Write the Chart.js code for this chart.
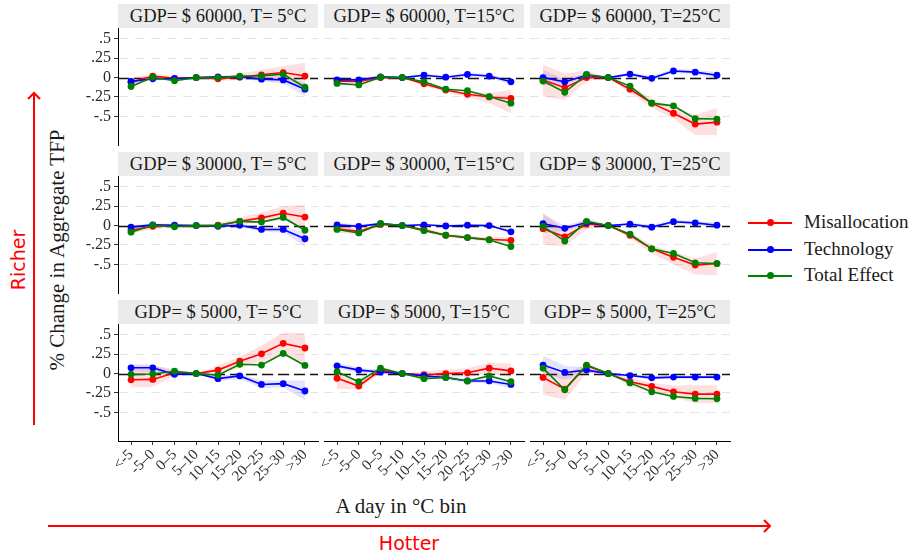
<!DOCTYPE html>
<html>
<head>
<meta charset="utf-8">
<script src="https://cdn.jsdelivr.net/npm/chart.js@4.4.1/dist/chart.umd.min.js"></script>
<style>
  body { margin: 0; width: 919px; height: 554px; overflow: hidden; position: relative; background: #fff;
         font-family: "Liberation Serif", serif; color: #1a1a1a; }
  canvas { position: absolute; }
  .strip { position: absolute; height: 24px; line-height: 25px; width: 200px; background: #ebebeb;
           text-align: center; font-size: 18.5px; white-space: nowrap; font-family: "Liberation Serif", serif; }
  .txt { position: absolute; white-space: nowrap; font-family: "Liberation Serif", serif; }
  .sans { font-family: "DejaVu Sans", sans-serif; color: #ff0000; }
  .leg { position: absolute; left: 748px; height: 20px; font-size: 19px; white-space: nowrap; font-family: "Liberation Serif", serif; }
  .leg i { position: absolute; left: 0; top: 9px; width: 44px; height: 2px; }
  .leg b { position: absolute; left: 19px; top: 6px; width: 7px; height: 7px; border-radius: 50%; }
  .leg span { position: absolute; left: 56px; top: -2px; }
</style>
</head>
<body>
<div class="txt" style="left:57px;top:250px;font-size:21px;transform:translate(-50%,-50%) rotate(-90deg);">% Change in Aggregate TFP</div>
<div class="txt" style="left:401px;top:506px;font-size:21px;transform:translate(-50%,-50%);">A day in °C bin</div>
<div class="txt sans" style="left:18px;top:260px;font-size:19px;transform:translate(-50%,-50%) rotate(-90deg);">Richer</div>
<div class="txt sans" style="left:409px;top:543px;font-size:19px;transform:translate(-50%,-50%);">Hotter</div>
<svg style="position:absolute;left:0;top:0" width="919" height="554">
  <g stroke="#ff0000" stroke-width="2" fill="none">
    <line x1="34" y1="425" x2="34" y2="93"/>
    <polyline points="28,99 34,93 40,99"/>
    <line x1="48" y1="526" x2="770" y2="526"/>
    <polyline points="764,520 770,526 764,532"/>
  </g>
</svg>
<div id="legend"></div>

<script>
// bins on the x axis
const binLabels = ["<-5", "-5–0", "0–5", "5–10", "10–15", "15–20", "20–25", "25–30", ">30"];
const stripTitles = [
  "GDP= $ 60000, T= 5°C", "GDP= $ 60000, T=15°C", "GDP= $ 60000, T=25°C",
  "GDP= $ 30000, T= 5°C", "GDP= $ 30000, T=15°C", "GDP= $ 30000, T=25°C",
  "GDP= $ 5000, T= 5°C",  "GDP= $ 5000, T=15°C",  "GDP= $ 5000, T=25°C"
];
const yTickVals = [-0.5, -0.25, 0, 0.25, 0.5];
const yTickText = ["-.5", "-.25", "0", ".25", ".5"];
const seriesNames = ["Misallocation", "Technology", "Total Effect"];

// one row per panel (row-major, richest first)
const misallocation = [
  [-0.06, 0.02, -0.01, 0, -0.015, 0.005, 0.035, 0.065, 0.02],
  [-0.045, -0.05, 0, 0, -0.08, -0.16, -0.215, -0.25, -0.27],
  [-0.03, -0.13, 0, 0, -0.15, -0.33, -0.46, -0.6, -0.575],
  [-0.06, -0.01, 0, 0, 0.005, 0.055, 0.1, 0.16, 0.11],
  [-0.04, -0.075, 0.015, 0, -0.055, -0.125, -0.155, -0.18, -0.19],
  [-0.04, -0.145, 0.02, 0, -0.125, -0.3, -0.41, -0.51, -0.49],
  [-0.08, -0.075, 0.01, 0, 0.045, 0.16, 0.255, 0.39, 0.33],
  [-0.06, -0.16, 0.045, 0, -0.015, 0, 0.01, 0.07, 0.035],
  [-0.05, -0.2, 0.1, 0, -0.105, -0.165, -0.235, -0.265, -0.265]
];
const misLow = [
  [-0.11, -0.02, -0.04, 0, -0.04, -0.03, -0.03, -0.02, -0.15],
  [-0.1, -0.09, -0.02, 0, -0.11, -0.19, -0.25, -0.33, -0.46],
  [-0.245, -0.29, -0.05, 0, -0.2, -0.39, -0.53, -0.74, -0.74],
  [-0.1, -0.05, -0.02, 0, -0.02, 0.01, 0.04, 0.07, -0.04],
  [-0.09, -0.12, 0, 0, -0.08, -0.15, -0.18, -0.21, -0.23],
  [-0.245, -0.27, -0.05, 0, -0.16, -0.36, -0.5, -0.63, -0.64],
  [-0.18, -0.17, -0.03, 0, 0, 0.08, 0.15, 0.25, 0.12],
  [-0.2, -0.2, 0, 0, -0.05, -0.04, -0.04, 0, -0.05],
  [-0.27, -0.34, 0, 0, -0.16, -0.25, -0.31, -0.38, -0.38]
];
const misHigh = [
  [0, 0.05, 0.02, 0, 0.01, 0.05, 0.1, 0.15, 0.19],
  [0.01, -0.02, 0.02, 0, -0.05, -0.13, -0.18, -0.2, -0.16],
  [0.17, 0.05, 0.09, 0, -0.1, -0.27, -0.39, -0.48, -0.39],
  [0, 0.02, 0.02, 0, 0.03, 0.1, 0.17, 0.25, 0.27],
  [0, -0.04, 0.03, 0, -0.03, -0.1, -0.13, -0.15, -0.15],
  [0.16, -0.05, 0.1, 0, -0.09, -0.25, -0.34, -0.42, -0.34],
  [0.1, 0.1, 0.06, 0, 0.1, 0.22, 0.36, 0.53, 0.52],
  [0, -0.11, 0.08, 0, 0.03, 0.05, 0.07, 0.14, 0.13],
  [0.1, -0.03, 0.14, 0, -0.05, -0.12, -0.15, -0.15, -0.15]
];
const technology = [
  [-0.05, -0.015, -0.015, 0, 0.01, 0.01, -0.02, -0.03, -0.15],
  [-0.03, -0.03, 0.01, 0, 0.03, 0.005, 0.04, 0.02, -0.055],
  [0, -0.055, 0.03, 0, 0.045, -0.01, 0.085, 0.07, 0.03],
  [-0.02, 0.01, 0.005, 0, -0.01, 0.005, -0.05, -0.05, -0.17],
  [0.01, -0.01, 0.025, 0, 0.01, -0.005, 0.005, 0, -0.08],
  [0.025, -0.035, 0.04, 0, 0.02, -0.02, 0.05, 0.035, 0.005],
  [0.075, 0.075, -0.01, 0, -0.065, -0.03, -0.14, -0.13, -0.225],
  [0.1, 0.045, 0.02, 0, -0.03, -0.05, -0.095, -0.095, -0.14],
  [0.11, 0.015, 0.045, 0, -0.025, -0.055, -0.045, -0.045, -0.045]
];
const techLow = [
  [-0.08, -0.035, -0.03, 0, -0.005, -0.01, -0.05, -0.08, -0.24],
  [-0.055, -0.055, -0.01, 0, 0.005, -0.015, 0.015, -0.005, -0.085],
  [-0.1, -0.09, 0, 0, 0.02, -0.04, 0.06, 0.04, -0.01],
  [-0.04, -0.01, -0.01, 0, -0.03, -0.02, -0.08, -0.09, -0.27],
  [-0.02, -0.03, 0.01, 0, 0, -0.02, -0.01, -0.015, -0.1],
  [-0.1, -0.07, 0.01, 0, 0, -0.05, 0.02, 0.01, -0.03],
  [0.03, 0.02, -0.04, 0, -0.1, -0.07, -0.19, -0.18, -0.34],
  [0.06, 0.01, -0.01, 0, -0.05, -0.075, -0.12, -0.125, -0.19],
  [0, -0.08, 0.01, 0, -0.045, -0.075, -0.065, -0.065, -0.065]
];
const techHigh = [
  [-0.02, 0.005, 0, 0, 0.025, 0.03, 0.01, 0.02, -0.07],
  [-0.005, -0.005, 0.03, 0, 0.055, 0.025, 0.065, 0.045, -0.025],
  [0.1, -0.02, 0.06, 0, 0.07, 0.02, 0.11, 0.1, 0.07],
  [0, 0.03, 0.02, 0, 0.01, 0.03, -0.02, -0.01, -0.1],
  [0.04, 0.01, 0.04, 0, 0.02, 0.01, 0.02, 0.015, -0.05],
  [0.15, 0, 0.07, 0, 0.04, 0.01, 0.08, 0.06, 0.04],
  [0.12, 0.12, 0.02, 0, -0.03, 0, -0.09, -0.09, -0.09],
  [0.14, 0.08, 0.05, 0, -0.01, -0.025, -0.07, -0.065, -0.1],
  [0.23, 0.1, 0.08, 0, -0.005, -0.035, -0.025, -0.025, -0.025]
];
const totalEffect = [
  [-0.115, 0.005, -0.04, 0, 0, 0.02, 0.02, 0.045, -0.125],
  [-0.075, -0.095, 0.005, 0, -0.055, -0.15, -0.17, -0.245, -0.33],
  [-0.045, -0.19, 0.04, 0, -0.11, -0.33, -0.365, -0.53, -0.535],
  [-0.085, 0.005, -0.015, 0, 0, 0.055, 0.045, 0.105, -0.06],
  [-0.05, -0.095, 0.025, 0, -0.065, -0.125, -0.155, -0.185, -0.27],
  [-0.01, -0.2, 0.055, 0, -0.11, -0.3, -0.36, -0.48, -0.49],
  [-0.01, -0.005, 0.03, 0, -0.02, 0.12, 0.11, 0.26, 0.105],
  [0.025, -0.105, 0.07, 0, -0.065, -0.05, -0.095, -0.03, -0.105],
  [0.07, -0.21, 0.11, 0, -0.12, -0.235, -0.295, -0.32, -0.325]
];

const RED = "#ff0000", BLUE = "#0000ff", GREEN = "#008000";
const COL_X = [118, 324, 530], PLOT_W = 200;
const ROW_Y = [28, 176, 324], PLOT_H = 117;
const Y_AXIS_W = 50, X_AXIS_H = 62, PAD = 16;

Chart.defaults.font.family = '"Liberation Serif", serif';
Chart.defaults.color = "#2b2b2b";

const zeroLine = {
  id: "zeroLine",
  beforeDatasetsDraw(chart) {
    const { ctx, chartArea: a, scales: { y } } = chart;
    const py = Math.round(y.getPixelForValue(0)) + 0.5;
    ctx.save();
    ctx.strokeStyle = "#111";
    ctx.lineWidth = 1.4;
    ctx.setLineDash([11, 5]);
    ctx.beginPath();
    ctx.moveTo(a.left, py);
    ctx.lineTo(a.right, py);
    ctx.stroke();
    ctx.restore();
  }
};

const pts = arr => arr.map((v, i) => ({ x: i, y: v }));

function band(lo, hi, fillColor, order) {
  return [
    { data: pts(lo), borderWidth: 0, pointRadius: 0, fill: false, order },
    { data: pts(hi), borderWidth: 0, pointRadius: 0, fill: "-1", backgroundColor: fillColor, order }
  ];
}

function line(vals, color, order) {
  return {
    data: pts(vals), borderColor: color, backgroundColor: color, borderWidth: 1.6,
    pointRadius: 3.4, pointBorderWidth: 0, pointBackgroundColor: color, fill: false, order
  };
}

function makePanel(idx) {
  const r = Math.floor(idx / 3), c = idx % 3;
  const leftAxis = c === 0, bottomAxis = r === 2;

  const strip = document.createElement("div");
  strip.className = "strip";
  strip.style.left = COL_X[c] + "px";
  strip.style.top = (ROW_Y[r] - 24) + "px";
  strip.textContent = stripTitles[idx];
  document.body.appendChild(strip);

  const cv = document.createElement("canvas");
  const w = PAD * 2 + PLOT_W + (leftAxis ? Y_AXIS_W : 0);
  const h = PAD * 2 + PLOT_H + (bottomAxis ? X_AXIS_H : 0);
  cv.width = w; cv.height = h;
  cv.style.left = (COL_X[c] - PAD - (leftAxis ? Y_AXIS_W : 0)) + "px";
  cv.style.top = (ROW_Y[r] - PAD) + "px";
  cv.style.width = w + "px"; cv.style.height = h + "px";
  document.body.appendChild(cv);

  new Chart(cv, {
    type: "line",
    data: {
      datasets: [
        ...band(misLow[idx], misHigh[idx], "rgba(255,0,0,0.12)", 10),
        ...band(techLow[idx], techHigh[idx], "rgba(0,0,255,0.11)", 9),
        line(misallocation[idx], RED, 3),
        line(technology[idx], BLUE, 2),
        line(totalEffect[idx], GREEN, 1)
      ]
    },
    options: {
      responsive: false, animation: false, events: [], devicePixelRatio: 1,
      layout: { padding: PAD },
      plugins: { legend: { display: false }, tooltip: { enabled: false } },
      scales: {
        x: {
          type: "linear", min: -0.6, max: 8.6, display: bottomAxis,
          afterBuildTicks: ax => { ax.ticks = binLabels.map((_, i) => ({ value: i })); },
          afterFit: ax => { ax.height = bottomAxis ? X_AXIS_H : 0; },
          ticks: {
            callback: (v, i) => binLabels[i], autoSkip: false, maxRotation: 45, minRotation: 45,
            padding: 1, font: { size: 15 }
          },
          grid: { drawOnChartArea: false, drawTicks: true, tickLength: 4, tickColor: "#333", tickWidth: 1 },
          border: { display: true, color: "#000", width: 1 }
        },
        y: {
          type: "linear", min: -0.87, max: 0.64,
          afterBuildTicks: ax => { ax.ticks = yTickVals.map(v => ({ value: v })); },
          afterFit: ax => { ax.width = leftAxis ? Y_AXIS_W : 0; },
          ticks: {
            display: leftAxis, padding: 3, font: { size: 16 },
            callback: (v, i) => yTickText[i]
          },
          grid: {
            color: ctx => (ctx.tick && ctx.tick.value === 0) ? "rgba(0,0,0,0)" : "#e4e4e4",
            lineWidth: 1, drawTicks: leftAxis, tickLength: 4, tickColor: "#333", tickWidth: 1
          },
          border: { display: leftAxis, color: "#000", width: 1, dash: [9, 7] }
        }
      }
    },
    plugins: [zeroLine]
  });
}

for (let i = 0; i < 9; i++) makePanel(i);

// legend
const legColors = [RED, BLUE, GREEN];
const legY = [213, 240, 266];
const legend = document.getElementById("legend");
seriesNames.forEach((name, i) => {
  const d = document.createElement("div");
  d.className = "leg";
  d.style.top = legY[i] + "px";
  d.innerHTML = `<i style="background:${legColors[i]}"></i><b style="background:${legColors[i]}"></b><span>${name}</span>`;
  legend.appendChild(d);
});
</script>
</body>
</html>
